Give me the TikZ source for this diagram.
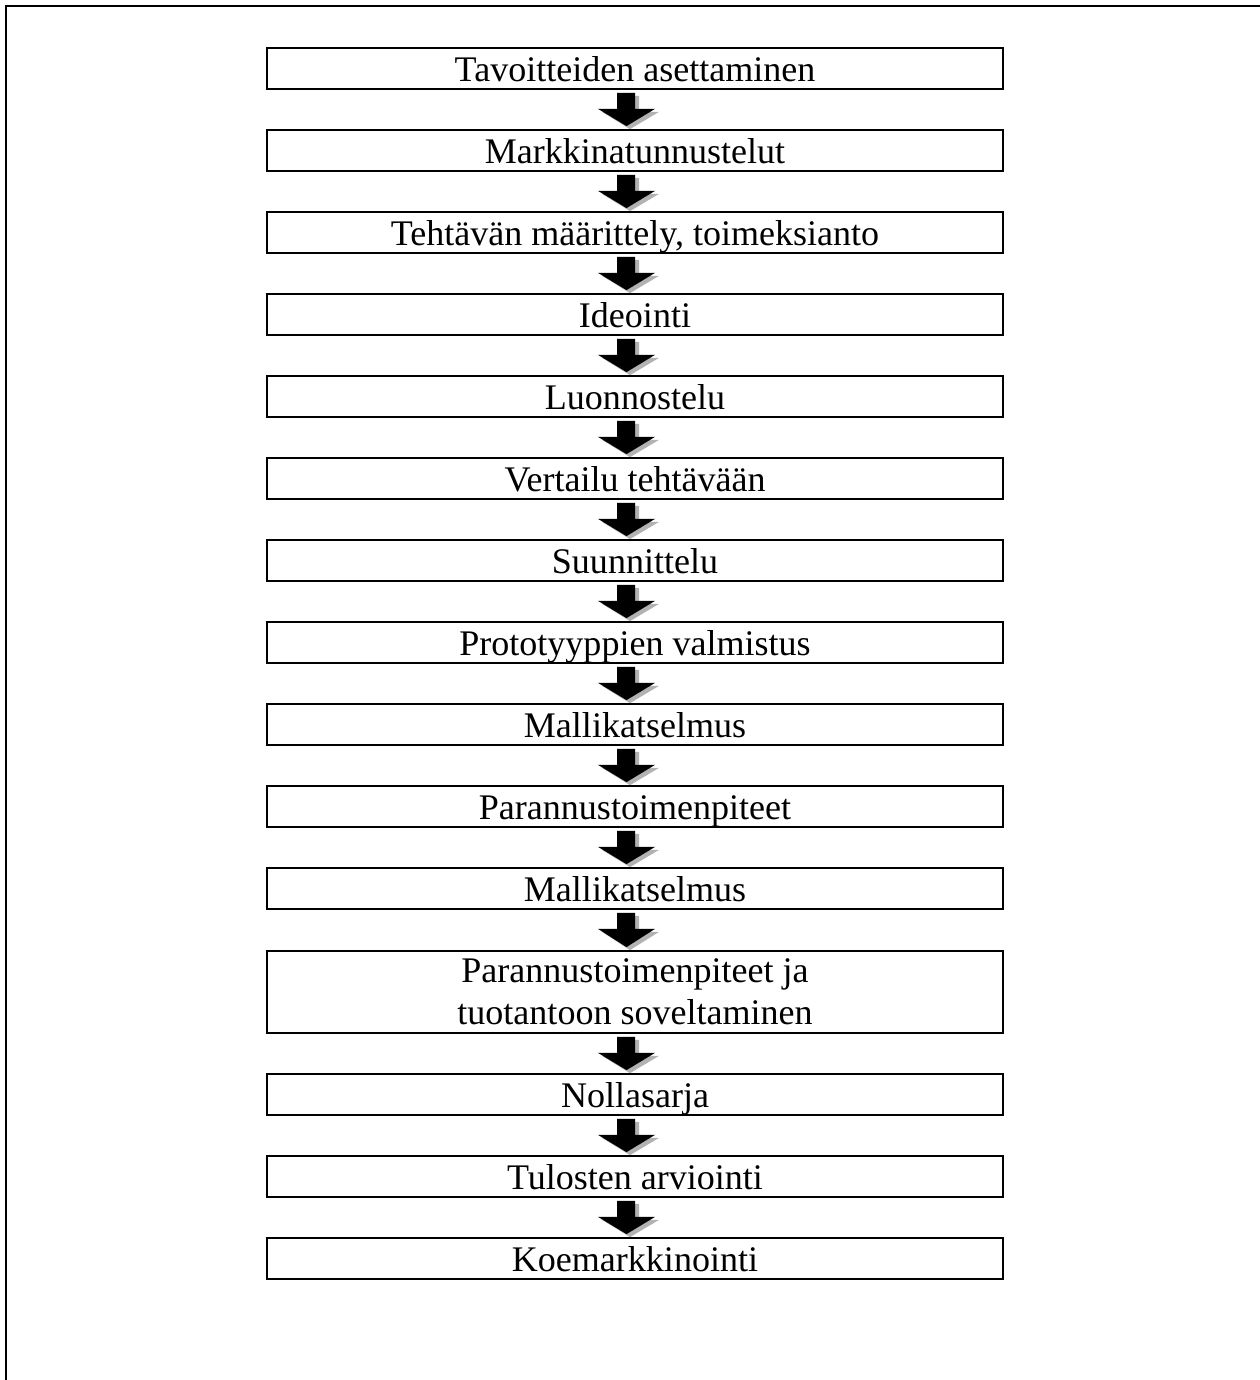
\documentclass[tikz,border=0pt]{standalone}
\usepackage{fontspec}
\setmainfont{Liberation Serif}
\usetikzlibrary{calc}

\tikzset{
  stage/.style={draw, line width=1pt, rectangle, minimum width=14.72cm, minimum height=0.82cm,
    inner sep=0pt, font=\fontsize{20.5}{24}\selectfont, text height=17.3pt, text depth=2.5pt},
  tallstage/.style={draw, line width=1pt, rectangle, minimum width=14.72cm, minimum height=1.64cm,
    inner sep=0pt, align=center, font=\fontsize{20.5}{24}\selectfont},
  framerule/.style={line width=1.2pt},
  arrowbody/.style={fill=black},
  arrowshade/.style={fill=black!30},
}

% block arrow from the bottom of one stage to the top of the next
\newcommand\stagearrow[2]{%
  \fill[arrowshade]
    ($(#1.south)+(-14,6)$) -- ($(#1.south)+(4,6)$) -- ($(#1.south)+(4,22)$) --
    ($(#1.south)+(24,22)$) -- ($(#2.north)+(-5,0)$) -- ($(#1.south)+(-33,22)$) --
    ($(#1.south)+(-14,22)$) -- cycle;
  \fill[arrowbody]
    ($(#1.south)+(-18,3)$) -- ($(#1.south)+(0,3)$) -- ($(#1.south)+(0,19)$) --
    ($(#1.south)+(20,19)$) -- ($(#2.north)+(-8.5,-3)$) -- ($(#1.south)+(-37,19)$) --
    ($(#1.south)+(-18,19)$) -- cycle;
}

\begin{document}
\begin{tikzpicture}[x=0.02cm, y=-0.02cm]
  \useasboundingbox (0,0) rectangle (1260,1380);
  \fill[white] (0,0) rectangle (1260,1380);

  % page frame: top and left rules only
  \draw[framerule] (1260,6) -- (6,6) -- (6,1380);

  \node[stage] (s1)  at (635,68.5)  {Tavoitteiden asettaminen};
  \node[stage] (s2)  at (635,150.5) {Markkinatunnustelut};
  \node[stage] (s3)  at (635,232.5) {Tehtävän määrittely, toimeksianto};
  \node[stage] (s4)  at (635,314.5) {Ideointi};
  \node[stage] (s5)  at (635,396.5) {Luonnostelu};
  \node[stage] (s6)  at (635,478.5) {Vertailu tehtävään};
  \node[stage] (s7)  at (635,560.5) {Suunnittelu};
  \node[stage] (s8)  at (635,642.5) {Prototyyppien valmistus};
  \node[stage] (s9)  at (635,724.5) {Mallikatselmus};
  \node[stage] (s10) at (635,806.5) {Parannustoimenpiteet};
  \node[stage] (s11) at (635,888.5) {Mallikatselmus};
  \node[tallstage] (s12) at (635,992) {Parannustoimenpiteet ja\\tuotantoon soveltaminen};
  \node[stage] (s13) at (635,1094.5) {Nollasarja};
  \node[stage] (s14) at (635,1176.5) {Tulosten arviointi};
  \node[stage] (s15) at (635,1258.5) {Koemarkkinointi};

  \foreach \a/\b in {s1/s2,s2/s3,s3/s4,s4/s5,s5/s6,s6/s7,s7/s8,s8/s9,s9/s10,
                     s10/s11,s11/s12,s12/s13,s13/s14,s14/s15}
    {\stagearrow{\a}{\b}}
\end{tikzpicture}
\end{document}
